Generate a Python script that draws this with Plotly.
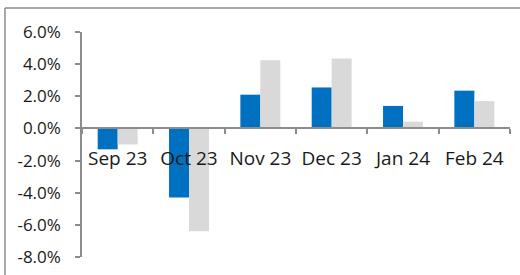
import plotly.graph_objects as go

categories = ["Sep 23", "Oct 23", "Nov 23", "Dec 23", "Jan 24", "Feb 24"]
series_a = [-1.3, -4.3, 2.1, 2.55, 1.4, 2.35]
series_b = [-1.0, -6.4, 4.25, 4.35, 0.42, 1.7]
y_ticks = [-8, -6, -4, -2, 0, 2, 4, 6]
y_tick_text = ["-8.0%", "-6.0%", "-4.0%", "-2.0%", "0.0%", "2.0%", "4.0%", "6.0%"]

fig = go.Figure()
fig.add_bar(x=categories, y=series_a, marker=dict(color="#0070C0", line=dict(width=0)), name="A")
fig.add_bar(x=categories, y=series_b, marker=dict(color="#D9D9D9", line=dict(width=0)), name="B")

ymin, ymax = -8, 6
fig.update_layout(
    width=520, height=275,
    margin=dict(l=82, r=10, t=32, b=18, autoexpand=False),
    paper_bgcolor="white", plot_bgcolor="white",
    showlegend=False,
    barmode="group", bargap=0.44, bargroupgap=0,
    font=dict(family="Open Sans", size=17, color="#1a1a1a"),
    xaxis=dict(
        type="category", range=[-0.5, 5.5], automargin=False,
        anchor="free", position=(0 - ymin) / (ymax - ymin),
        showline=True, linecolor="#8c8c8c", linewidth=1.5,
        ticks="outside", tickson="boundaries", ticklen=5, tickcolor="#8c8c8c", tickwidth=1.5,
        ticklabelstandoff=13, showgrid=False, tickfont=dict(size=19), tickangle=0,
    ),
    yaxis=dict(
        range=[ymin, ymax], tickvals=y_ticks, ticktext=y_tick_text, automargin=False,
        showline=True, linecolor="#8c8c8c", linewidth=1.5,
        ticks="outside", ticklen=5, tickcolor="#8c8c8c", tickwidth=1.5,
        ticklabelstandoff=11, showgrid=False, zeroline=False,
    ),
)
# outer chart frame
fig.add_shape(type="line", xref="paper", yref="paper",
              x0=(5 - 82) / 428, x1=1.1, y0=1 + (32 - 8) / 225, y1=1 + (32 - 8) / 225,
              line=dict(color="#8c8c8c", width=1.5))
fig.add_shape(type="line", xref="paper", yref="paper",
              x0=(5 - 82) / 428, x1=(5 - 82) / 428, y0=1 + (32 - 8) / 225, y1=-0.2,
              line=dict(color="#8c8c8c", width=1.5))

fig.write_html("out.html", config={"displayModeBar": False},
               post_script="document.body.style.margin='0';")
